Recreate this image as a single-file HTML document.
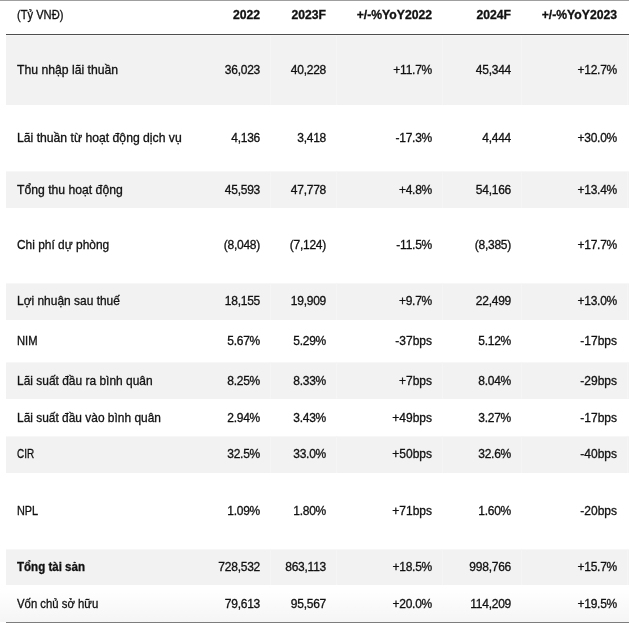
<!DOCTYPE html><html><head><meta charset="utf-8"><style>
*{margin:0;padding:0;box-sizing:border-box}
html,body{width:629px;height:623px;overflow:hidden;background:#fff}
body{position:relative;font-family:"Liberation Sans",sans-serif;color:#111;filter:grayscale(1)}
.r{position:absolute;left:6px;width:623px}
.g{background:linear-gradient(#f7f7f7 0,#f7f7f7 1px,#f2f2f2 1px)}
.vl{position:absolute;top:0;bottom:0;width:1px;background:#f5f5f5}
.t{position:absolute;white-space:nowrap;font-size:12.2px;-webkit-text-stroke:0.3px #111}
.l{left:11px;transform-origin:0 50%}
.n{font-size:12px;letter-spacing:-0.25px}
.h{font-weight:bold;font-size:12.2px}
</style></head><body>
<div style="position:absolute;left:0;top:0;width:629px;height:1px;background:#9f9f9f"></div>
<div class="r" style="top:-1px;height:33px;">
<div class="t l" style="top:0;line-height:33px;transform:scaleX(0.914)">(Tỷ VNĐ)</div>
<div class="t h" style="top:0;line-height:33px;right:369px">2022</div>
<div class="t h" style="top:0;line-height:33px;right:303px">2023F</div>
<div class="t h" style="top:0;line-height:33px;right:197px">+/-%YoY2022</div>
<div class="t h" style="top:0;line-height:33px;right:118px">2024F</div>
<div class="t h" style="top:0;line-height:33px;right:12px">+/-%YoY2023</div>
</div>
<div style="position:absolute;left:6px;top:34px;width:623px;height:1px;background:#4f4f4f"></div>
<div class="r g" style="top:35px;height:70px;">
<div class="vl" style="left:264px"></div>
<div class="vl" style="left:330px"></div>
<div class="vl" style="left:436px"></div>
<div class="vl" style="left:515px"></div>
<div class="vl" style="left:621px"></div>
<div class="t l" style="top:0px;line-height:70px;transform:scaleX(1.002)">Thu nhập lãi thuần</div>
<div class="t n" style="top:0px;line-height:70px;right:369px">36,023</div>
<div class="t n" style="top:0px;line-height:70px;right:303px">40,228</div>
<div class="t n" style="top:0px;line-height:70px;right:197px">+11.7%</div>
<div class="t n" style="top:0px;line-height:70px;right:118px">45,344</div>
<div class="t n" style="top:0px;line-height:70px;right:12px">+12.7%</div>
</div>
<div class="r" style="top:105px;height:66px;">
<div class="t l" style="top:0px;line-height:66px;transform:scaleX(1.0)">Lãi thuần từ hoạt động dịch vụ</div>
<div class="t n" style="top:0px;line-height:66px;right:369px">4,136</div>
<div class="t n" style="top:0px;line-height:66px;right:303px">3,418</div>
<div class="t n" style="top:0px;line-height:66px;right:197px">-17.3%</div>
<div class="t n" style="top:0px;line-height:66px;right:118px">4,444</div>
<div class="t n" style="top:0px;line-height:66px;right:12px">+30.0%</div>
</div>
<div class="r g" style="top:171px;height:37px;">
<div class="vl" style="left:264px"></div>
<div class="vl" style="left:330px"></div>
<div class="vl" style="left:436px"></div>
<div class="vl" style="left:515px"></div>
<div class="vl" style="left:621px"></div>
<div class="t l" style="top:1px;line-height:37px;transform:scaleX(1.0)">Tổng thu hoạt động</div>
<div class="t n" style="top:1px;line-height:37px;right:369px">45,593</div>
<div class="t n" style="top:1px;line-height:37px;right:303px">47,778</div>
<div class="t n" style="top:1px;line-height:37px;right:197px">+4.8%</div>
<div class="t n" style="top:1px;line-height:37px;right:118px">54,166</div>
<div class="t n" style="top:1px;line-height:37px;right:12px">+13.4%</div>
</div>
<div class="r" style="top:208px;height:75px;">
<div class="t l" style="top:0px;line-height:75px;transform:scaleX(0.9787)">Chi phí dự phòng</div>
<div class="t n" style="top:0px;line-height:75px;right:369px">(8,048)</div>
<div class="t n" style="top:0px;line-height:75px;right:303px">(7,124)</div>
<div class="t n" style="top:0px;line-height:75px;right:197px">-11.5%</div>
<div class="t n" style="top:0px;line-height:75px;right:118px">(8,385)</div>
<div class="t n" style="top:0px;line-height:75px;right:12px">+17.7%</div>
</div>
<div class="r g" style="top:283px;height:37px;">
<div class="vl" style="left:264px"></div>
<div class="vl" style="left:330px"></div>
<div class="vl" style="left:436px"></div>
<div class="vl" style="left:515px"></div>
<div class="vl" style="left:621px"></div>
<div class="t l" style="top:0px;line-height:37px;transform:scaleX(0.981)">Lợi nhuận sau thuế</div>
<div class="t n" style="top:0px;line-height:37px;right:369px">18,155</div>
<div class="t n" style="top:0px;line-height:37px;right:303px">19,909</div>
<div class="t n" style="top:0px;line-height:37px;right:197px">+9.7%</div>
<div class="t n" style="top:0px;line-height:37px;right:118px">22,499</div>
<div class="t n" style="top:0px;line-height:37px;right:12px">+13.0%</div>
</div>
<div class="r" style="top:320px;height:42px;">
<div class="t l" style="top:0px;line-height:42px;transform:scaleX(0.9182)">NIM</div>
<div class="t n" style="top:0px;line-height:42px;right:369px">5.67%</div>
<div class="t n" style="top:0px;line-height:42px;right:303px">5.29%</div>
<div class="t n" style="top:0px;line-height:42px;letter-spacing:0;right:197px">-37bps</div>
<div class="t n" style="top:0px;line-height:42px;right:118px">5.12%</div>
<div class="t n" style="top:0px;line-height:42px;letter-spacing:0;right:12px">-17bps</div>
</div>
<div class="r g" style="top:362px;height:37px;">
<div class="vl" style="left:264px"></div>
<div class="vl" style="left:330px"></div>
<div class="vl" style="left:436px"></div>
<div class="vl" style="left:515px"></div>
<div class="vl" style="left:621px"></div>
<div class="t l" style="top:1px;line-height:37px;transform:scaleX(0.9812)">Lãi suất đầu ra bình quân</div>
<div class="t n" style="top:1px;line-height:37px;right:369px">8.25%</div>
<div class="t n" style="top:1px;line-height:37px;right:303px">8.33%</div>
<div class="t n" style="top:1px;line-height:37px;letter-spacing:0;right:197px">+7bps</div>
<div class="t n" style="top:1px;line-height:37px;right:118px">8.04%</div>
<div class="t n" style="top:1px;line-height:37px;letter-spacing:0;right:12px">-29bps</div>
</div>
<div class="r" style="top:399px;height:37px;">
<div class="t l" style="top:1px;line-height:37px;transform:scaleX(0.9789)">Lãi suất đầu vào bình quân</div>
<div class="t n" style="top:1px;line-height:37px;right:369px">2.94%</div>
<div class="t n" style="top:1px;line-height:37px;right:303px">3.43%</div>
<div class="t n" style="top:1px;line-height:37px;letter-spacing:0;right:197px">+49bps</div>
<div class="t n" style="top:1px;line-height:37px;right:118px">3.27%</div>
<div class="t n" style="top:1px;line-height:37px;letter-spacing:0;right:12px">-17bps</div>
</div>
<div class="r g" style="top:436px;height:37px;">
<div class="vl" style="left:264px"></div>
<div class="vl" style="left:330px"></div>
<div class="vl" style="left:436px"></div>
<div class="vl" style="left:515px"></div>
<div class="vl" style="left:621px"></div>
<div class="t l" style="top:0px;line-height:37px;transform:scaleX(0.8143)">CIR</div>
<div class="t n" style="top:0px;line-height:37px;right:369px">32.5%</div>
<div class="t n" style="top:0px;line-height:37px;right:303px">33.0%</div>
<div class="t n" style="top:0px;line-height:37px;letter-spacing:0;right:197px">+50bps</div>
<div class="t n" style="top:0px;line-height:37px;right:118px">32.6%</div>
<div class="t n" style="top:0px;line-height:37px;letter-spacing:0;right:12px">-40bps</div>
</div>
<div class="r" style="top:473px;height:76px;">
<div class="t l" style="top:0px;line-height:76px;transform:scaleX(0.8917)">NPL</div>
<div class="t n" style="top:0px;line-height:76px;right:369px">1.09%</div>
<div class="t n" style="top:0px;line-height:76px;right:303px">1.80%</div>
<div class="t n" style="top:0px;line-height:76px;letter-spacing:0;right:197px">+71bps</div>
<div class="t n" style="top:0px;line-height:76px;right:118px">1.60%</div>
<div class="t n" style="top:0px;line-height:76px;letter-spacing:0;right:12px">-20bps</div>
</div>
<div class="r g" style="top:549px;height:36px;">
<div class="vl" style="left:264px"></div>
<div class="vl" style="left:330px"></div>
<div class="vl" style="left:436px"></div>
<div class="vl" style="left:515px"></div>
<div class="vl" style="left:621px"></div>
<div class="t l" style="top:0px;line-height:36px;font-weight:bold;transform:scaleX(0.9465)">Tổng tài sản</div>
<div class="t n" style="top:0px;line-height:36px;right:369px">728,532</div>
<div class="t n" style="top:0px;line-height:36px;right:303px">863,113</div>
<div class="t n" style="top:0px;line-height:36px;right:197px">+18.5%</div>
<div class="t n" style="top:0px;line-height:36px;right:118px">998,766</div>
<div class="t n" style="top:0px;line-height:36px;right:12px">+15.7%</div>
</div>
<div class="r" style="top:585px;height:37px;">
<div class="t l" style="top:1px;line-height:37px;transform:scaleX(0.931)">Vốn chủ sở hữu</div>
<div class="t n" style="top:1px;line-height:37px;right:369px">79,613</div>
<div class="t n" style="top:1px;line-height:37px;right:303px">95,567</div>
<div class="t n" style="top:1px;line-height:37px;right:197px">+20.0%</div>
<div class="t n" style="top:1px;line-height:37px;right:118px">114,209</div>
<div class="t n" style="top:1px;line-height:37px;right:12px">+19.5%</div>
</div>
<div style="position:absolute;left:0;top:588px;width:629px;height:34px;background:linear-gradient(rgba(0,0,0,0),rgba(0,0,0,0.04));pointer-events:none"></div>
<div style="position:absolute;left:6px;top:622px;width:623px;height:1px;background:#7d7d7d"></div>
</body></html>
